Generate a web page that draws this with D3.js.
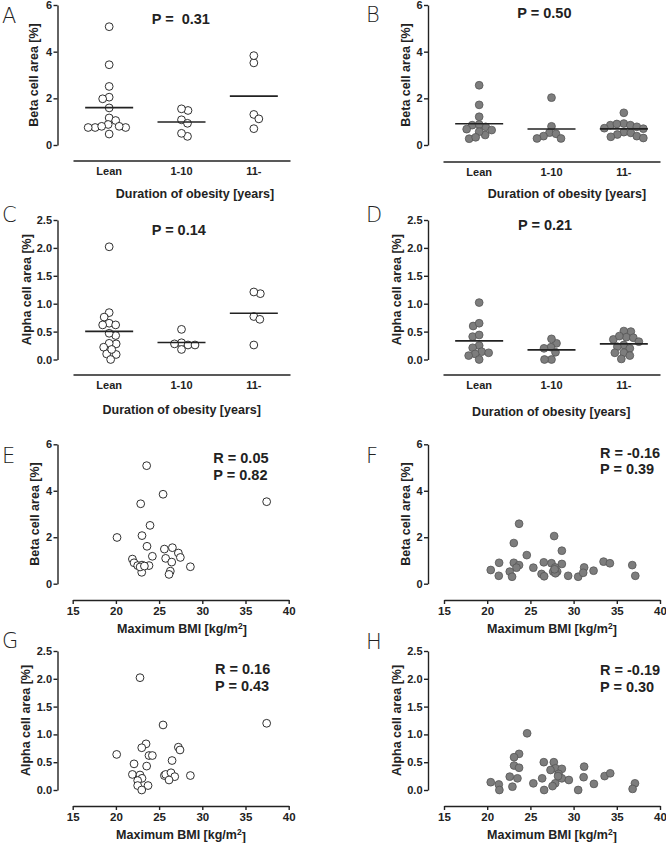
<!DOCTYPE html>
<html><head><meta charset="utf-8">
<script src="https://cdn.jsdelivr.net/npm/d3@7"></script>
<style>
body{margin:0;background:#fff;}
svg text{font-family:"Liberation Sans",Arial,Helvetica,sans-serif;fill:#222;}
</style></head><body>
<svg id="chart" width="666" height="843"></svg>
<script>
// ---------- DATA ----------
const groups = ["Lean", "1-10", "11-"];
const betaTicks = [0, 2, 4, 6];
const alphaTicks = [0, 0.5, 1.0, 1.5, 2.0, 2.5];
const bmiTicks = [15, 20, 25, 30, 35, 40];

// Panel A (non-diabetic, beta)
const betaND_lean  = [5.07, 3.44, 2.51, 2.05, 1.98, 1.59, 1.16, 1.05, 0.88, 0.75, 0.75, 0.75, 0.80, 0.80, 0.47];
const betaND_short = [1.48, 1.55, 1.08, 0.93, 0.37, 0.50];
const betaND_long  = [3.52, 3.83, 1.31, 1.12, 0.70];
// Panel B (T2D, beta)
const betaT2D_lean  = [2.56, 1.72, 1.21, 0.85, 0.78, 0.88, 0.64, 0.43, 0.57, 0.68, 0.27, 0.33];
const betaT2D_short = [2.03, 0.80, 0.53, 0.38, 0.48, 0.28, 0.28];
const betaT2D_long  = [1.38, 0.92, 0.85, 0.85, 0.90, 0.78, 0.72, 0.55, 0.52, 0.45, 0.38, 0.35, 0.30, 0.70];
// Panel C (non-diabetic, alpha)
const alphaND_lean  = [2.02, 0.84, 0.76, 0.65, 0.62, 0.62, 0.43, 0.47, 0.28, 0.29, 0.22, 0.10, 0.09, 0.18, 0.00];
const alphaND_short = [0.54, 0.30, 0.26, 0.26, 0.28, 0.18];
const alphaND_long  = [1.18, 1.21, 0.77, 0.72, 0.26];
// Panel D (T2D, alpha)
const alphaT2D_lean  = [1.02, 0.60, 0.65, 0.41, 0.44, 0.25, 0.21, 0.14, 0.10, 0.07, 0.12, 0.00];
const alphaT2D_short = [0.29, 0.37, 0.22, 0.20, 0.13, 0.00, 0.00];
const alphaT2D_long  = [0.50, 0.51, 0.40, 0.36, 0.39, 0.42, 0.26, 0.23, 0.32, 0.20, 0.12, 0.12, 0.07, 0.01];

// Panel E (non-diabetic, beta vs max BMI)
const E_bmi  = [23.56, 25.46, 22.87, 37.45, 23.95, 23.02, 20.13, 23.60, 25.61, 26.54, 27.23, 27.46, 24.22, 21.91, 22.10, 25.76, 26.46, 22.52, 23.02, 23.83, 28.62, 22.99, 26.30, 26.15, 22.80, 23.30];
const E_beta = [5.08, 3.85, 3.44, 3.53, 2.51, 2.07, 1.99, 1.61, 1.49, 1.55, 1.32, 1.13, 1.18, 1.06, 0.90, 1.09, 0.93, 0.78, 0.80, 0.78, 0.73, 0.49, 0.54, 0.40, 0.72, 0.76];
// Panel F (T2D, beta vs max BMI)
const F_bmi  = [23.69, 27.75, 23.08, 28.64, 24.58, 21.38, 23.08, 23.69, 23.39, 20.41, 25.34, 26.55, 27.44, 28.64, 27.87, 27.64, 28.10, 27.90, 26.29, 26.59, 21.34, 22.61, 22.88, 29.37, 30.53, 31.22, 31.11, 32.31, 33.47, 34.20, 36.79, 37.14, 27.80];
const F_beta = [2.58, 2.05, 1.75, 1.42, 1.23, 0.90, 0.90, 0.80, 0.69, 0.59, 0.69, 0.92, 0.88, 0.85, 0.70, 0.52, 0.52, 0.45, 0.42, 0.32, 0.34, 0.52, 0.30, 0.34, 0.30, 0.70, 0.47, 0.56, 0.95, 0.88, 0.80, 0.34, 0.62];
// Panel G (non-diabetic, alpha vs max BMI)
const G_bmi   = [22.79, 25.46, 37.45, 20.09, 23.49, 22.99, 27.23, 27.42, 23.83, 24.22, 22.10, 23.56, 26.50, 21.91, 22.79, 23.02, 22.52, 25.61, 25.76, 26.38, 26.81, 26.15, 28.62, 22.52, 23.72, 22.99];
const G_alpha = [2.02, 1.17, 1.20, 0.64, 0.83, 0.76, 0.77, 0.72, 0.62, 0.62, 0.47, 0.43, 0.53, 0.28, 0.27, 0.21, 0.17, 0.26, 0.28, 0.31, 0.24, 0.18, 0.26, 0.08, 0.08, 0.00];
// Panel H (T2D, alpha vs max BMI)
const H_bmi   = [24.62, 23.69, 23.11, 26.55, 27.71, 23.11, 23.69, 27.91, 28.64, 27.33, 31.22, 28.26, 22.61, 23.50, 26.36, 28.64, 29.45, 31.16, 33.59, 34.24, 20.41, 21.34, 22.92, 25.34, 27.87, 27.56, 32.35, 37.10, 36.83, 21.41, 26.59, 30.53, 28.20];
const H_alpha = [1.02, 0.65, 0.59, 0.50, 0.50, 0.44, 0.40, 0.39, 0.38, 0.36, 0.42, 0.29, 0.24, 0.21, 0.21, 0.21, 0.18, 0.23, 0.25, 0.30, 0.14, 0.10, 0.06, 0.12, 0.12, 0.07, 0.11, 0.12, 0.02, 0.00, 0.00, 0.00, 0.25];

const statA = ["P =  0.31"];
const statB = ["P = 0.50"];
const statC = ["P = 0.14"];
const statD = ["P = 0.21"];
const statE = ["R = 0.05", "P = 0.82"];
const statF = ["R = -0.16", "P = 0.39"];
const statG = ["R = 0.16", "P = 0.43"];
const statH = ["R = -0.19", "P = 0.30"];

// ---------- DRAWING ----------
const svg = d3.select("#chart");
const INK = "#222";
const R = 3.9;

function styleAxis(g, fs) {
  g.select(".domain").attr("stroke", INK).attr("stroke-width", 1.4);
  g.selectAll(".tick line").attr("stroke", INK).attr("stroke-width", 1.4);
  g.selectAll("text").attr("font-family", null).attr("font-size", null)
    .style("font-size", fs + "px").style("font-weight", "bold").attr("fill", INK);
  g.attr("font-family", null).attr("font-size", null);
}

function swarm(vals, y, minD) {
  const idx = vals.map((v, i) => i).sort((a, b) => vals[b] - vals[a]);
  const placed = [], off = new Array(vals.length);
  idx.forEach((i, k) => {
    const py = y(vals[i]);
    for (let s = 0; s < 400; s++) {
      const m = s * 0.5;
      const cands = m === 0 ? [0] : (k % 2 ? [m, -m] : [-m, m]);
      let f = null;
      for (const c of cands) {
        if (placed.every(p => Math.hypot(p[0] - c, p[1] - py) >= minD)) { f = c; break; }
      }
      if (f !== null) { off[i] = f; placed.push([f, py]); break; }
    }
  });
  return off;
}

function yAxisPart(c) {
  const y = d3.scaleLinear().domain([0, c.yMax]).range(c.yr);
  const ay = d3.axisLeft(y).tickValues(c.ticks).tickSize(4).tickSizeOuter(0).tickPadding(1.5)
    .tickFormat(c.fmt);
  const g = svg.append("g").attr("transform", `translate(${c.ax},0)`).call(ay);
  styleAxis(g, 11);
  svg.append("text").attr("transform", `translate(${c.ytx},${(c.yr[0] + c.yr[1]) / 2}) rotate(-90)`)
    .attr("text-anchor", "middle").attr("dy", "0.36em")
    .style("font-size", "12.5px").style("font-weight", "bold").text(c.ytitle);
  svg.append("text").attr("x", c.letter[0]).attr("y", c.letter[1])
    .style("font-family", "'DejaVu Sans', 'Liberation Sans', sans-serif")
    .style("font-size", "21px").style("font-weight", "200").attr("fill", "#333").text(c.L);
  return y;
}

function statText(lines, x, ys) {
  lines.forEach((t, i) => {
    svg.append("text").attr("x", x).attr("y", ys[i]).style("white-space", "pre")
      .style("font-size", "14.5px").style("font-weight", "bold").text(t);
  });
}

function circleStyle(sel, filled) {
  sel.attr("r", R)
    .attr("fill", filled ? "#7d7d7d" : "#fff")
    .attr("stroke", filled ? "#555" : "#1a1a1a")
    .attr("stroke-width", filled ? 0.8 : 0.9);
}

function catPanel(c) {
  const y = yAxisPart(c);
  const x = d3.scaleBand().domain(groups).range(c.xr);
  const ax = d3.axisBottom(x).tickSize(0).tickSizeOuter(0).tickPadding(7);
  const g = svg.append("g").attr("transform", `translate(0,${c.xl})`).call(ax);
  styleAxis(g, 11);
  svg.append("text").attr("x", c.xt[0]).attr("y", c.xt[1]).attr("text-anchor", "middle")
    .style("font-size", "12.5px").style("font-weight", "bold").text("Duration of obesity [years]");
  c.data.forEach((vals, gi) => {
    const cx = x(groups[gi]) + x.bandwidth() / 2;
    const off = swarm(vals, y, 6.6);
    const m = d3.mean(vals);
    svg.append("g").selectAll("circle").data(vals).join("circle")
      .attr("cx", (d, i) => cx + off[i]).attr("cy", d => y(d))
      .call(circleStyle, c.filled);
    svg.append("line").attr("x1", cx - 24).attr("x2", cx + 24)
      .attr("y1", y(m)).attr("y2", y(m)).attr("stroke", INK).attr("stroke-width", 1.6);
  });
  statText(c.stat, c.st[0], c.st.slice(1));
}

function scatPanel(c) {
  const y = yAxisPart(c);
  const x = d3.scaleLinear().domain([15, 40]).range(c.xr);
  const ax = d3.axisBottom(x).tickValues(bmiTicks).tickSize(4).tickSizeOuter(0).tickPadding(2.5)
    .tickFormat(d3.format("d"));
  const g = svg.append("g").attr("transform", `translate(0,${c.xl})`).call(ax);
  styleAxis(g, 11.5);
  const t = svg.append("text").attr("x", c.xt[0]).attr("y", c.xt[1]).attr("text-anchor", "middle")
    .style("font-size", "12.5px").style("font-weight", "bold");
  t.append("tspan").text("Maximum BMI [kg/m");
  t.append("tspan").attr("dy", "-0.45em").style("font-size", "8.5px").text("2");
  t.append("tspan").attr("dy", "0.45em").text("]");
  svg.append("g").selectAll("circle").data(c.xs).join("circle")
    .attr("cx", d => x(d)).attr("cy", (d, i) => y(c.ys[i]))
    .call(circleStyle, c.filled);
  statText(c.stat, c.st[0], c.st.slice(1));
}

const L = {ax: 57.5, xr: [73, 290]};
const Rt = {ax: 428, xr: [443, 660]};
const fmtBeta = d3.format("d"), fmtAlpha = d3.format(".1f");

catPanel({L: "A", letter: [2, 23], ax: L.ax, xr: L.xr, yr: [145, 5], yMax: 6, ticks: betaTicks, fmt: fmtBeta,
  ytitle: "Beta cell area [%]", ytx: 33, xl: 160.5, xt: [195, 198], filled: false,
  data: [betaND_lean, betaND_short, betaND_long], stat: statA, st: [151.7, 24]});
catPanel({L: "B", letter: [366, 22], ax: Rt.ax, xr: Rt.xr, yr: [145, 5], yMax: 6, ticks: betaTicks, fmt: fmtBeta,
  ytitle: "Beta cell area [%]", ytx: 405, xl: 161.5, xt: [567, 197.5], filled: true,
  data: [betaT2D_lean, betaT2D_short, betaT2D_long], stat: statB, st: [517.3, 18.3]});
catPanel({L: "C", letter: [2, 222], ax: L.ax, xr: L.xr, yr: [359.5, 220], yMax: 2.5, ticks: alphaTicks, fmt: fmtAlpha,
  ytitle: "Alpha cell area [%]", ytx: 26, xl: 374.5, xt: [181.7, 413.5], filled: false,
  data: [alphaND_lean, alphaND_short, alphaND_long], stat: statC, st: [151.7, 235]});
catPanel({L: "D", letter: [366, 222], ax: Rt.ax, xr: Rt.xr, yr: [359.5, 220], yMax: 2.5, ticks: alphaTicks, fmt: fmtAlpha,
  ytitle: "Alpha cell area [%]", ytx: 396, xl: 374.5, xt: [551.3, 415.5], filled: true,
  data: [alphaT2D_lean, alphaT2D_short, alphaT2D_long], stat: statD, st: [518, 230]});

scatPanel({L: "E", letter: [2, 463], ax: L.ax, xr: [72.7, 288.7], yr: [583.7, 444.3], yMax: 6, ticks: betaTicks, fmt: fmtBeta,
  ytitle: "Beta cell area [%]", ytx: 34, xl: 600, xt: [182, 632.5], filled: false,
  xs: E_bmi, ys: E_beta, stat: statE, st: [213.3, 463.3, 480]});
scatPanel({L: "F", letter: [366, 463], ax: Rt.ax, xr: [444, 660], yr: [583.7, 444.3], yMax: 6, ticks: betaTicks, fmt: fmtBeta,
  ytitle: "Beta cell area [%]", ytx: 405, xl: 600, xt: [552, 632.5], filled: true,
  xs: F_bmi, ys: F_beta, stat: statF, st: [600, 457.7, 474.3]});
scatPanel({L: "G", letter: [2, 648], ax: L.ax, xr: [72.7, 288.7], yr: [790, 651], yMax: 2.5, ticks: alphaTicks, fmt: fmtAlpha,
  ytitle: "Alpha cell area [%]", ytx: 25, xl: 806, xt: [181, 839], filled: false,
  xs: G_bmi, ys: G_alpha, stat: statG, st: [215, 674.3, 691]});
scatPanel({L: "H", letter: [366, 649], ax: Rt.ax, xr: [444, 660], yr: [790, 651], yMax: 2.5, ticks: alphaTicks, fmt: fmtAlpha,
  ytitle: "Alpha cell area [%]", ytx: 396, xl: 806, xt: [552, 839], filled: true,
  xs: H_bmi, ys: H_alpha, stat: statH, st: [600, 675, 692.3]});
</script>
</body></html>
